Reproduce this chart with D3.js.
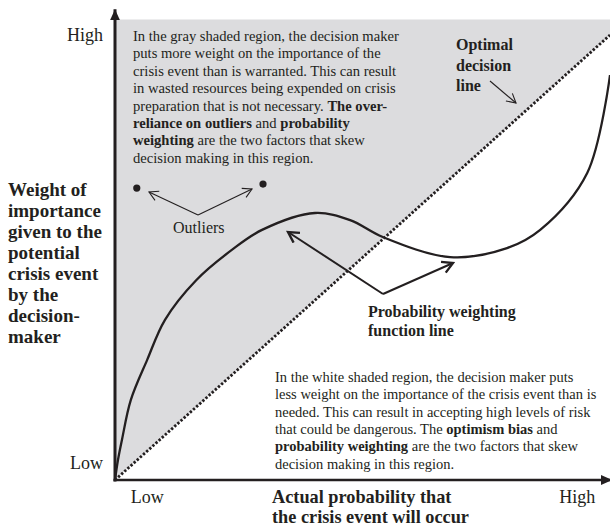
<!DOCTYPE html>
<html>
<head>
<meta charset="utf-8">
<script src="https://cdnjs.cloudflare.com/ajax/libs/d3/7.8.5/d3.min.js"></script>
<style>
  html, body { margin: 0; padding: 0; background: #fff; }
  svg { display: block; }
  text { font-family: "Liberation Serif", "Times New Roman", serif; fill: #231f20; }
  .b { font-weight: bold; }
</style>
</head>
<body>
<svg id="chart" width="610" height="526"></svg>
<script>
// probability weighting function (actual probability -> weight given)
var curveX = [0, 0.006, 0.014, 0.032, 0.065, 0.101, 0.164, 0.236, 0.297, 0.404, 0.475, 0.541, 0.677, 0.792, 0.859, 0.954, 1.0];
var curveY = [0, 0.045, 0.090, 0.180, 0.270, 0.360, 0.449, 0.517, 0.562, 0.600, 0.584, 0.546, 0.501, 0.521, 0.562, 0.690, 0.910];

// optimal decision line
var optimalX = [0, 1];
var optimalY = [0, 1];

// outlier points
var outlierX = [0.044, 0.299];
var outlierY = [0.656, 0.665];

// axis tick labels
var xTickLabels = ['Low', 'High'];
var xTickVals = [0.064, 0.933];
var yTickLabels = ['Low', 'High'];
var yTickVals = [0.038, 1.0];

var yTitle = ['Weight of', 'importance', 'given to the', 'potential', 'crisis event', 'by the', 'decision-', 'maker'];
var xTitle = ['Actual probability that', 'the crisis event will occur'];

var topNote = [
  [['In the gray shaded region, the decision maker', 0]],
  [['puts more weight on the importance of the', 0]],
  [['crisis event than is warranted. This can result', 0]],
  [['in wasted resources being expended on crisis', 0]],
  [['preparation that is not necessary. ', 0], ['The over-', 1]],
  [['reliance on outliers', 1], [' and ', 0], ['probability', 1]],
  [['weighting', 1], [' are the two factors that skew', 0]],
  [['decision making in this region.', 0]]
];

var bottomNote = [
  [['In the white shaded region, the decision maker puts', 0]],
  [['less weight on the importance of the crisis event than is', 0]],
  [['needed. This can result in accepting high levels of risk', 0]],
  [['that could be dangerous. The ', 0], ['optimism bias', 1], [' and', 0]],
  [['probability weighting', 1], [' are the two factors that skew', 0]],
  [['decision making in this region.', 0]]
];

var svg = d3.select('#chart');
var ink = '#231f20';

var x = d3.scaleLinear().domain([0, 1]).range([115, 610]);
var y = d3.scaleLinear().domain([0, 1]).range([480, 35]);

var defs = svg.append('defs');
function openHead(id, size, width) {
  defs.append('marker')
    .attr('id', id)
    .attr('viewBox', '-10 -6 12 12')
    .attr('refX', 0).attr('refY', 0)
    .attr('markerUnits', 'userSpaceOnUse')
    .attr('markerWidth', size).attr('markerHeight', size)
    .attr('orient', 'auto')
    .append('path')
    .attr('d', 'M-9,-5L0,0L-9,5')
    .attr('fill', 'none')
    .attr('stroke', ink)
    .attr('stroke-width', width);
}
openHead('thin', 12, 1.1);
openHead('thick', 14, 2);
defs.append('marker')
  .attr('id', 'solid')
  .attr('viewBox', '-10 -5 10 10')
  .attr('refX', 0).attr('refY', 0)
  .attr('markerUnits', 'userSpaceOnUse')
  .attr('markerWidth', 11).attr('markerHeight', 11)
  .attr('orient', 'auto')
  .append('path')
  .attr('d', 'M-10,-4.5L0,0L-10,4.5Z')
  .attr('fill', ink);

var line = d3.line().x(function(d) { return x(d[0]); }).y(function(d) { return y(d[1]); });

// gray region above the optimal line
var topY = 1.035;
svg.append('path')
  .attr('d', line([[0, 0], [0, topY], [1, topY], [1, 1]]) + 'Z')
  .attr('fill', '#dcdcde');

// optimal decision line (dotted)
svg.append('path')
  .datum(d3.zip(optimalX, optimalY))
  .attr('d', line)
  .attr('fill', 'none')
  .attr('stroke', ink)
  .attr('stroke-width', 2.8)
  .attr('stroke-dasharray', '2.4,1.8');

// probability weighting function
svg.append('path')
  .datum(d3.zip(curveX, curveY))
  .attr('d', d3.line().curve(d3.curveCatmullRom.alpha(0.5))
    .x(function(d) { return x(d[0]); }).y(function(d) { return y(d[1]); }))
  .attr('fill', 'none')
  .attr('stroke', ink)
  .attr('stroke-width', 2.3);

// outliers
svg.selectAll('circle.outlier')
  .data(d3.zip(outlierX, outlierY))
  .join('circle')
  .attr('class', 'outlier')
  .attr('cx', function(d) { return x(d[0]); })
  .attr('cy', function(d) { return y(d[1]); })
  .attr('r', 3.6)
  .attr('fill', ink);

// axes
var xAxis = svg.append('g')
  .attr('transform', 'translate(0,' + y(0) + ')')
  .call(d3.axisBottom(x).tickValues(xTickVals).tickFormat(function(d, i) { return xTickLabels[i]; })
    .tickSize(0));
var yAxis = svg.append('g')
  .attr('transform', 'translate(' + x(0) + ',0)')
  .call(d3.axisLeft(y).tickValues(yTickVals).tickFormat(function(d, i) { return yTickLabels[i]; })
    .tickSize(0).tickPadding(12));
[xAxis, yAxis].forEach(function(g) {
  g.select('.domain').remove();
  g.selectAll('text').style('font-family', null).attr('font-size', 18).attr('fill', ink);
});
xAxis.selectAll('text').attr('y', 23).attr('dy', null);

svg.append('line')
  .attr('x1', x(0)).attr('y1', y(0) + 1.5)
  .attr('x2', x(0)).attr('y2', y(1.058))
  .attr('stroke', ink).attr('stroke-width', 3)
  .attr('marker-end', 'url(#solid)');
svg.append('line')
  .attr('x1', x(0) - 1.5).attr('y1', y(0))
  .attr('x2', x(1.004)).attr('y2', y(0))
  .attr('stroke', ink).attr('stroke-width', 2.6)
  .attr('marker-end', 'url(#solid)');

// axis titles
svg.append('text').attr('class', 'b').attr('font-size', 19)
  .selectAll('tspan').data(yTitle).join('tspan')
  .attr('x', 8).attr('y', function(d, i) { return 196 + i * 21; })
  .text(function(d) { return d; });
svg.append('text').attr('class', 'b').attr('font-size', 18.3)
  .selectAll('tspan').data(xTitle).join('tspan')
  .attr('x', 272).attr('y', function(d, i) { return 503 + i * 20; })
  .text(function(d) { return d; });

// paragraphs with bold runs
function para(lines, x0, y0, lh, size) {
  var t = svg.append('text').attr('font-size', size);
  lines.forEach(function(segs, i) {
    segs.forEach(function(s, j) {
      var sp = t.append('tspan').text(s[0]).attr('font-weight', s[1] ? 'bold' : null);
      if (j === 0) sp.attr('x', x0).attr('y', y0 + i * lh);
    });
  });
}
para(topNote, 133, 41, 17.4, 14.6);
para(bottomNote, 275, 382, 17.3, 14.5);

// labels
svg.append('text').attr('class', 'b').attr('font-size', 16)
  .selectAll('tspan').data(['Optimal', 'decision', 'line']).join('tspan')
  .attr('x', 456).attr('y', function(d, i) { return 50 + i * 20.5; })
  .text(function(d) { return d; });
svg.append('line')
  .attr('x1', 490).attr('y1', 81).attr('x2', 516).attr('y2', 103)
  .attr('stroke', ink).attr('stroke-width', 1.1).attr('marker-end', 'url(#thin)');

svg.append('text').attr('font-size', 16).attr('x', 173).attr('y', 233).text('Outliers');
svg.append('line')
  .attr('x1', 198).attr('y1', 215).attr('x2', 149).attr('y2', 192)
  .attr('stroke', ink).attr('stroke-width', 1.1).attr('marker-end', 'url(#thin)');
svg.append('line')
  .attr('x1', 198).attr('y1', 215).attr('x2', 252).attr('y2', 189)
  .attr('stroke', ink).attr('stroke-width', 1.1).attr('marker-end', 'url(#thin)');

svg.append('text').attr('class', 'b').attr('font-size', 16)
  .selectAll('tspan').data(['Probability weighting', 'function line']).join('tspan')
  .attr('x', 368).attr('y', function(d, i) { return 317 + i * 19; })
  .text(function(d) { return d; });
svg.append('line')
  .attr('x1', 383).attr('y1', 294).attr('x2', 288).attr('y2', 232)
  .attr('stroke', ink).attr('stroke-width', 2).attr('marker-end', 'url(#thick)');
svg.append('line')
  .attr('x1', 383).attr('y1', 294).attr('x2', 453).attr('y2', 263)
  .attr('stroke', ink).attr('stroke-width', 2).attr('marker-end', 'url(#thick)');
</script>
</body>
</html>
